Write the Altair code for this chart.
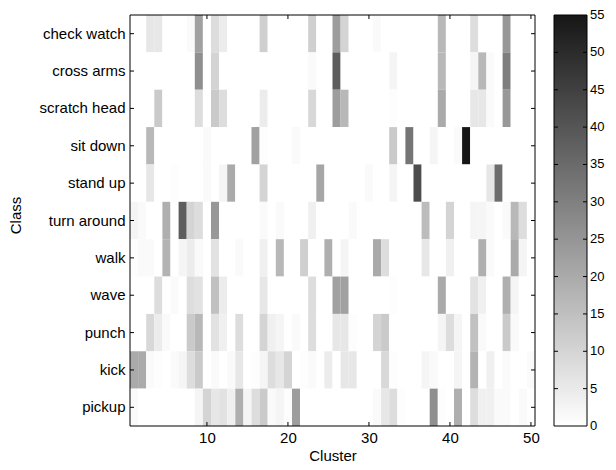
import altair as alt
import pandas as pd

classes = ["check watch", "cross arms", "scratch head", "sit down", "stand up",
           "turn around", "walk", "wave", "punch", "kick", "pickup"]

check_watch = [0, 0, 5, 5, 0, 0, 0, 1, 20, 0,
               7, 4, 0, 0, 0, 0, 10, 0, 0, 0,
               0, 0, 10, 0, 0, 21, 9, 0, 0, 0,
               1, 0, 0, 0, 0, 0, 0, 0, 15, 0,
               0, 0, 7, 0, 0, 0, 22, 0, 0, 0]
cross_arms = [0, 0, 0, 0, 0, 0, 0, 0, 24, 0,
              9, 0, 0, 0, 0, 0, 0, 0, 0, 0,
              0, 0, 1, 0, 0, 36, 0, 0, 0, 0,
              0, 0, 2, 0, 0, 0, 0, 0, 15, 0,
              0, 0, 2, 15, 1, 0, 28, 0, 0, 0]
scratch_head = [0, 0, 0, 11, 0, 0, 0, 0, 7, 0,
                11, 7, 0, 0, 0, 0, 4, 0, 0, 0,
                0, 0, 8, 0, 0, 21, 15, 0, 0, 0,
                0, 0, 0.5, 0, 0, 0, 0, 0, 18, 0,
                0, 0, 5, 5, 1, 0, 22, 0, 0, 0]
sit_down = [0, 0, 15, 0, 0, 0, 0, 0, 0, 1,
            0, 0, 0, 0, 0, 20, 0.5, 0, 0, 0,
            1, 0, 0, 0, 0, 0, 0, 0, 0, 0,
            0, 0, 11, 0, 30, 0, 0, 2, 0, 0,
            1, 55, 0, 0, 0, 0, 0, 0, 0, 0]
stand_up = [0, 0, 5, 0, 0, 0.5, 0, 0, 0, 1,
            0, 2, 18, 0, 0, 0, 9, 0, 0, 0,
            0, 0, 0, 19, 0, 0, 0, 0, 0, 1,
            0, 0, 2, 0, 0, 40, 0, 0, 0, 0,
            0, 0, 0, 0, 5, 32, 0, 0, 0, 0]
turn_around = [2, 1, 0, 0, 17, 0, 36, 9, 7, 0,
               22, 0, 0, 0, 0, 0, 1, 0, 1, 0,
               0, 0, 3, 0, 0, 0, 0, 1, 0, 0,
               0, 0, 0, 0, 0, 0, 14, 0, 0, 9,
               0, 0, 2, 2, 1, 0, 1, 15, 7, 0]
walk = [0.5, 1, 1, 0, 16, 0, 2, 4, 1, 0,
        6, 0, 0, 1, 0, 0, 3, 0, 15, 0,
        0, 10, 0, 0, 17, 0, 2, 0, 0, 0,
        18, 7, 0, 0, 0, 0, 5, 0, 0, 3,
        0, 0, 0, 17, 1, 0, 0, 18, 2, 0]
wave = [0, 0, 0, 7, 0, 1, 0, 7, 6, 0,
        13, 4, 0, 0, 0, 0, 5, 0, 0, 0,
        0, 0, 7, 0, 0, 20, 20, 0, 0, 0,
        0, 0, 0.5, 0, 0, 0, 0, 0, 18, 0,
        0, 0, 6, 3, 0, 0, 17, 2, 0, 0]
punch = [0, 0, 8, 4, 1, 0, 0, 11, 15, 0,
         6, 3, 0, 7, 0, 0, 9, 3, 2, 0,
         1, 0, 7, 0, 0, 5, 5, 0.5, 0, 0,
         9, 11, 0, 0, 0, 0, 0, 0, 2, 7,
         2, 0, 13, 1, 0, 0, 11, 1, 0, 0]
kick = [18, 18, 1, 0.5, 0, 1, 2, 7, 11, 0,
        1, 0, 1, 5, 0, 0.5, 2, 7, 5, 9,
        0, 0.5, 1, 0, 4, 0, 5, 5, 0, 0,
        0, 8, 0.5, 0, 0, 0, 2, 1, 0, 0,
        2, 0, 16, 0, 3, 0, 1, 0, 0, 1]
pickup = [1, 0, 0, 0, 0, 0, 0, 0, 2, 9,
          5, 6, 3, 17, 2, 7, 11, 1, 2, 0.5,
          21, 0, 0, 0, 0, 0, 0, 0, 0, 0,
          1, 5, 7, 0.5, 0, 0, 0, 24, 0.5, 0,
          17, 0, 7, 3, 3, 1, 1, 0, 1, 0]

rows = [check_watch, cross_arms, scratch_head, sit_down, stand_up,
        turn_around, walk, wave, punch, kick, pickup]

x_ticks = [10, 20, 30, 40, 50]
cbar_ticks = [0, 5, 10, 15, 20, 25, 30, 35, 40, 45, 50, 55]
cmin, cmax = 0, 55
c_light, c_dark = "#ffffff", "#161616"

records = []
for cls, vals in zip(classes, rows):
    for i, v in enumerate(vals):
        records.append({"Class": cls, "x0": i + 0.5, "x1": i + 1.5, "count": v})
df = pd.DataFrame(records)

W, H = 405, 411
FONT = "Liberation Sans"
FS = 15
xscale = alt.Scale(domain=[0.5, 50.5], nice=False, zero=False)
cscale = alt.Scale(domain=[cmin, cmax], nice=False, zero=False)

heat = alt.Chart(df).mark_rect(strokeWidth=0).encode(
    x=alt.X("x0:Q", scale=xscale,
            axis=alt.Axis(values=x_ticks, title="Cluster", grid=False, ticks=False,
                          domain=False, labelPadding=4, titlePadding=3)),
    x2="x1:Q",
    y=alt.Y("Class:N", sort=classes, scale=alt.Scale(paddingInner=0, paddingOuter=0),
            axis=alt.Axis(title="Class", ticks=False, domain=False, labelPadding=5,
                          titleX=-107, titleY=200, titleAnchor="middle")),
    color=alt.Color("count:Q",
                    scale=alt.Scale(domain=[cmin, cmax], nice=False, range=[c_light, c_dark]),
                    legend=None),
)

frame_df = pd.DataFrame({"x0": [0.5], "x1": [50.5]})
frame = alt.Chart(frame_df).mark_rect(fillOpacity=0, stroke="black", strokeWidth=1).encode(
    x=alt.X("x0:Q", scale=xscale), x2="x1:Q", y=alt.value(0), y2=alt.value(H))

xt = pd.DataFrame({"x0": x_ticks})
tick_bottom = alt.Chart(xt).mark_rule(color="black").encode(
    x=alt.X("x0:Q", scale=xscale), y=alt.value(H), y2=alt.value(H - 4))
tick_top = alt.Chart(xt).mark_rule(color="black").encode(
    x=alt.X("x0:Q", scale=xscale), y=alt.value(0), y2=alt.value(4))

yt = pd.DataFrame({"Class": classes})
tick_left = alt.Chart(yt).mark_rule(color="black").encode(
    y=alt.Y("Class:N", sort=classes, axis=None), x=alt.value(0), x2=alt.value(4))
tick_right = alt.Chart(yt).mark_rule(color="black").encode(
    y=alt.Y("Class:N", sort=classes, axis=None), x=alt.value(W - 4), x2=alt.value(W))

# colorbar
CB0, CB1 = 424, 457
bar_df = pd.DataFrame({"v0": [cmin], "v1": [cmax]})
cbar = alt.Chart(bar_df).mark_rect(
    fill=alt.Gradient(gradient="linear",
                      stops=[alt.GradientStop(color=c_light, offset=0),
                             alt.GradientStop(color=c_dark, offset=1)],
                      x1=0, x2=0, y1=1, y2=0),
    stroke="black", strokeWidth=1,
).encode(y=alt.Y("v0:Q", scale=cscale, axis=None), y2="v1:Q",
         x=alt.value(CB0), x2=alt.value(CB1))

ct = pd.DataFrame({"v": cbar_ticks[1:-1]})
cb_left = alt.Chart(ct).mark_rule(color="black").encode(
    y=alt.Y("v:Q", scale=cscale, axis=None), x=alt.value(CB0), x2=alt.value(CB0 + 4))
cb_right = alt.Chart(ct).mark_rule(color="black").encode(
    y=alt.Y("v:Q", scale=cscale, axis=None), x=alt.value(CB1 - 4), x2=alt.value(CB1))

cl = pd.DataFrame({"v": cbar_ticks, "label": [str(t) for t in cbar_ticks]})
cb_labels = alt.Chart(cl).mark_text(align="left", baseline="middle", font=FONT,
                                    fontSize=13, color="black").encode(
    y=alt.Y("v:Q", scale=cscale, axis=None), x=alt.value(CB1 + 3), text="label:N")

chart = alt.layer(
    heat, frame, tick_bottom, tick_top, tick_left, tick_right,
    cbar, cb_left, cb_right, cb_labels
).resolve_scale(
    y="independent"
).properties(
    width=W, height=H,
    autosize=alt.AutoSizeParams(type="none"),
    padding={"left": 122, "top": 7, "right": 73, "bottom": 36},
).configure_view(
    strokeWidth=0
).configure_axis(
    labelFont=FONT, titleFont=FONT, labelFontSize=FS, titleFontSize=FS,
    labelColor="black", titleColor="black", titleFontWeight="normal"
)

chart.save("out.html", embed_options={"renderer": "svg", "actions": False})
